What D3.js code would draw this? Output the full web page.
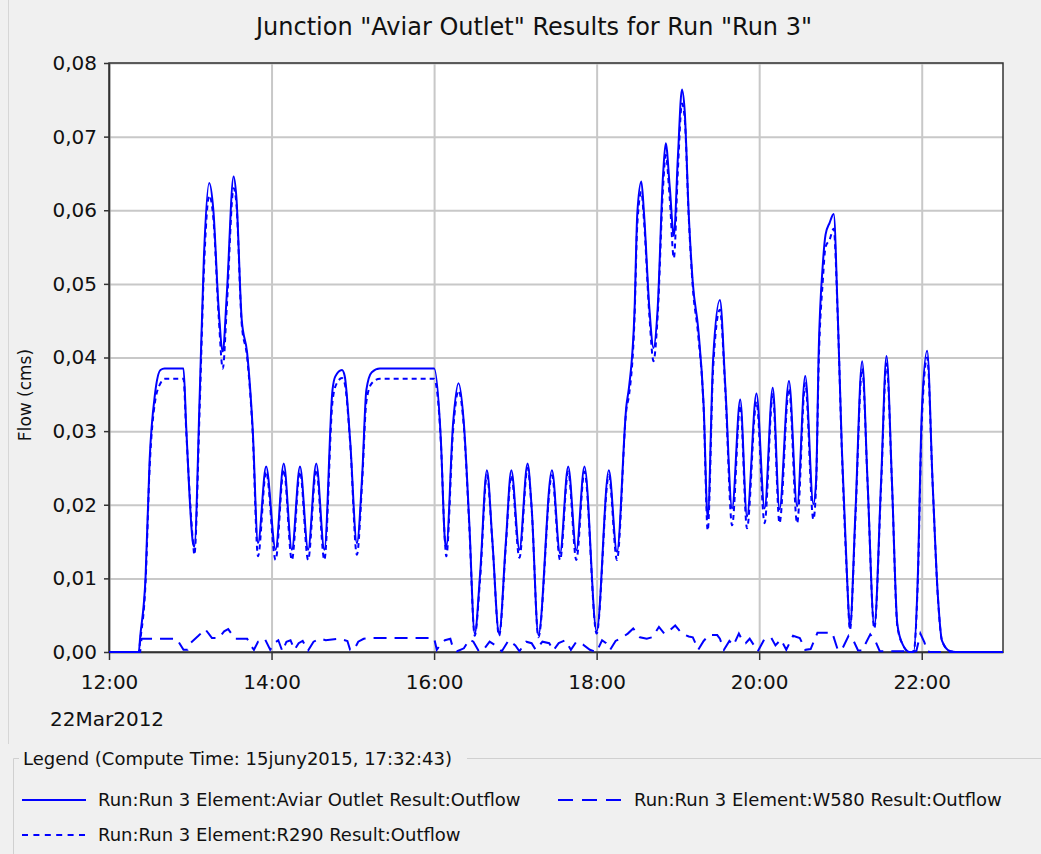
<!DOCTYPE html>
<html>
<head>
<meta charset="utf-8">
<script src="https://cdn.jsdelivr.net/npm/d3@7"></script>
<style>
  html, body { margin: 0; padding: 0; background: #f0f0f0; }
  svg { display: block; font-family: "DejaVu Sans", sans-serif; }
  .grid line { stroke: #c8c8c8; stroke-width: 2; }
  .grid .domain { display: none; }
  .axis line, .axis path { stroke: #333; stroke-width: 1.5; }
  .axis text { fill: #111; font-size: 20px; font-family: "DejaVu Sans", sans-serif; }
</style>
</head>
<body>
<div id="chart"></div>
<script>
// time of day on 22Mar2012, shared by the Aviar Outlet and R290 series
var times = [
  "12:00", "12:22", "12:23", "12:27", "12:30", "12:34", "12:38", "12:41", "12:55", "12:57",
  "13:02", "13:03", "13:07", "13:10", "13:14", "13:17", "13:21", "13:24", "13:27", "13:32",
  "13:34", "13:38", "13:42", "13:46", "13:50", "13:56", "14:03", "14:09", "14:15", "14:21",
  "14:27", "14:33", "14:39", "14:45", "14:47", "14:52", "14:54", "14:58", "15:03", "15:07",
  "15:10", "15:14", "15:20", "16:00", "16:05", "16:08", "16:09", "16:14", "16:18", "16:22",
  "16:26", "16:30", "16:34", "16:39", "16:43", "16:48", "16:53", "16:57", "17:03", "17:09",
  "17:12", "17:17", "17:27", "17:33", "17:39", "17:45", "17:51", "18:00", "18:09", "18:15",
  "18:22", "18:24", "18:28", "18:30", "18:33", "18:35", "18:39", "18:42", "18:45", "18:49",
  "18:51", "18:54", "18:57", "19:00", "19:03", "19:05", "19:08", "19:11", "19:15", "19:19",
  "19:22", "19:26", "19:31", "19:35", "19:40", "19:46", "19:51", "19:58", "20:04", "20:10",
  "20:15", "20:22", "20:28", "20:34", "20:40", "20:42", "20:44", "20:47", "20:49", "20:52",
  "20:55", "20:58", "21:01", "21:05", "21:07", "21:11", "21:16", "21:20", "21:25", "21:30",
  "21:34", "21:38", "21:42", "21:46", "21:51", "21:54", "21:57", "22:00", "22:04", "22:08",
  "22:12", "22:15", "22:21", "22:25", "23:00"
];

var aviarOutlet = [
  0, 0, 0.002, 0.0102, 0.0261, 0.0351, 0.0383, 0.0385, 0.0385, 0.0306,
  0.0148, 0.0143, 0.0351, 0.0533, 0.0637, 0.0601, 0.0465, 0.0408, 0.0487, 0.0646,
  0.0619, 0.0451, 0.0406, 0.0306, 0.0148, 0.0252, 0.0139, 0.0256, 0.0139, 0.0252,
  0.0139, 0.0256, 0.0139, 0.0356, 0.0374, 0.0383, 0.0375, 0.0288, 0.0148, 0.0243,
  0.0356, 0.038, 0.0385, 0.0385, 0.0288, 0.0152, 0.0143, 0.031, 0.0365, 0.031,
  0.0175, 0.0025, 0.0107, 0.0247, 0.0152, 0.0025, 0.015, 0.0247, 0.0139, 0.0256,
  0.0197, 0.0023, 0.0247, 0.0134, 0.0252, 0.0138, 0.0252, 0.0028, 0.0247, 0.0136,
  0.0335, 0.0361, 0.0465, 0.0595, 0.0639, 0.0595, 0.0465, 0.0413, 0.0465, 0.0647,
  0.0691, 0.0631, 0.0565, 0.0673, 0.0764, 0.0735, 0.0595, 0.0501, 0.0439, 0.0335,
  0.0182, 0.0398, 0.0478, 0.0361, 0.0195, 0.0343, 0.0184, 0.0351, 0.0195, 0.0359,
  0.0194, 0.0368, 0.0198, 0.0375, 0.0201, 0.0232, 0.0413, 0.0527, 0.0567, 0.0583,
  0.0595, 0.0459, 0.0278, 0.0096, 0.0033, 0.0187, 0.0395, 0.0232, 0.0035, 0.0232,
  0.0402, 0.0232, 0.0038, 0.001, 0, 0, 0.0096, 0.0323, 0.0409, 0.0232,
  0.0074, 0.0015, 0.0001, 0, 0
];

var r290 = [
  0, 0, 0.0015, 0.0095, 0.025, 0.034, 0.0365, 0.0371, 0.0371, 0.030,
  0.015, 0.0132, 0.0335, 0.0515, 0.062, 0.059, 0.0455, 0.0385, 0.047, 0.063,
  0.061, 0.0445, 0.040, 0.030, 0.013, 0.0245, 0.0125, 0.0248, 0.0125, 0.0245,
  0.0125, 0.0248, 0.0125, 0.034, 0.036, 0.0372, 0.0365, 0.0285, 0.0132, 0.0235,
  0.034, 0.0365, 0.0371, 0.0371, 0.0285, 0.015, 0.013, 0.030, 0.0355, 0.0305,
  0.017, 0.0022, 0.010, 0.024, 0.015, 0.0022, 0.0145, 0.024, 0.0128, 0.025,
  0.0195, 0.002, 0.024, 0.0125, 0.0245, 0.0125, 0.0245, 0.0025, 0.024, 0.0125,
  0.033, 0.035, 0.0455, 0.058, 0.0625, 0.0585, 0.0455, 0.0395, 0.0455, 0.063,
  0.0675, 0.0615, 0.0535, 0.0655, 0.0745, 0.0725, 0.059, 0.0495, 0.043, 0.033,
  0.0165, 0.0385, 0.0465, 0.0355, 0.0172, 0.0335, 0.0168, 0.034, 0.0175, 0.035,
  0.0175, 0.0358, 0.0175, 0.0365, 0.018, 0.0225, 0.0395, 0.0505, 0.055, 0.056,
  0.0575, 0.0455, 0.0275, 0.0095, 0.003, 0.018, 0.0385, 0.023, 0.0032, 0.0225,
  0.0392, 0.023, 0.0035, 0.001, 0, 0, 0.009, 0.031, 0.040, 0.023,
  0.0072, 0.0015, 0.0001, 0, 0
];

var w580Times = [
  "12:00", "12:23", "12:24", "12:50", "12:52", "12:55", "12:58", "13:00", "13:06", "13:11",
  "13:14", "13:16", "13:21", "13:25", "13:28", "13:33", "13:42", "13:45", "13:47", "13:50",
  "13:55", "13:59", "14:02", "14:05", "14:08", "14:11", "14:14", "14:17", "14:20", "14:23",
  "14:27", "14:31", "14:36", "14:40", "14:50", "14:56", "14:58", "15:01", "15:04", "15:08",
  "15:14", "16:00", "16:02", "16:05", "16:08", "16:12", "16:14", "16:17", "16:22", "16:26",
  "16:29", "16:33", "16:36", "16:41", "16:46", "16:50", "16:55", "17:00", "17:03", "17:08",
  "17:12", "17:15", "17:20", "17:25", "17:28", "17:32", "17:37", "17:41", "17:45", "17:50",
  "17:55", "18:00", "18:04", "18:07", "18:10", "18:14", "18:19", "18:23", "18:27", "18:32",
  "18:37", "18:41", "18:46", "18:50", "18:53", "18:58", "19:03", "19:08", "19:11", "19:15",
  "19:19", "19:23", "19:29", "19:31", "19:34", "19:38", "19:41", "19:45", "19:48", "19:50",
  "19:53", "19:59", "20:04", "20:09", "20:12", "20:16", "20:20", "20:25", "20:30", "20:34",
  "20:38", "20:43", "20:54", "20:58", "21:01", "21:06", "21:10", "21:13", "21:16", "21:22",
  "21:26", "21:29", "21:56", "21:59", "22:02", "22:04", "22:06", "23:00"
];

var w580 = [
  0, 0, 0.0018, 0.0018, 0.0012, 0.0003, 0.0003, 0.0012, 0.0022, 0.0031,
  0.0024, 0.0019, 0.0019, 0.0028, 0.0031, 0.0018, 0.0018, 0.0008, 0.0003, 0.0014,
  0.0018, 0.0003, 0.0012, 0.0016, 0.0001, 0.0014, 0.0016, 0.0003, 0.0012, 0.0015,
  0.0002, 0.0014, 0.0018, 0.0016, 0.0018, 0.0015, 0.0003, 0.0003, 0.0014, 0.0018,
  0.0019, 0.0019, 0.0003, 0.0011, 0.0016, 0.0018, 0.0005, 0.0001, 0.0005, 0.0017,
  0.0014, 0.0001, 0.0002, 0.0014, 0.0008, 0.0001, 0.0016, 0.0009, 0.0001, 0.0014,
  0.0012, 0.0003, 0.0014, 0.0012, 0.0002, 0.0012, 0.0016, 0.0003, 0.0014, 0.001,
  0.0003, 0, 0.0016, 0.0012, 0.0003, 0.0015, 0.002, 0.0025, 0.0032, 0.002,
  0.0018, 0.002, 0.0034, 0.0025, 0.0028, 0.0036, 0.0025, 0.0021, 0.002, 0.0003,
  0.0015, 0.0023, 0.0023, 0.0018, 0.0003, 0.0015, 0.0009, 0.0025, 0.0014, 0.0012,
  0.0018, 0.0001, 0.0018, 0.0019, 0.0009, 0.0017, 0.0003, 0.0022, 0.0019, 0.0003,
  0.0004, 0.0026, 0.0026, 0.0003, 0.0003, 0.0022, 0.0014, 0.0002, 0.0002, 0.0024,
  0.0014, 0.0001, 0.0001, 0.0025, 0.0013, 0.0001, 0, 0
];

var xTickLabels = ["12:00", "14:00", "16:00", "18:00", "20:00", "22:00"];
var yTicks = [0, 0.01, 0.02, 0.03, 0.04, 0.05, 0.06, 0.07, 0.08];
var day = "22Mar2012";
var legendNames = [
  "Run:Run 3 Element:Aviar Outlet Result:Outflow",
  "Run:Run 3 Element:W580 Result:Outflow",
  "Run:Run 3 Element:R290 Result:Outflow"
];

var margin = {top: 63, right: 38, bottom: 202, left: 109};
var W = 1041, H = 854;
var width = W - margin.left - margin.right,
  height = H - margin.top - margin.bottom;

var parseTime = d3.timeParse("%d%b%Y %H:%M");
function t(s) { return parseTime(day + " " + s); }

var comma = d3.formatLocale({decimal: ",", thousands: ".", grouping: [3], currency: ["", ""]});

var svg = d3.select("#chart")
  .append("svg")
  .attr("width", W)
  .attr("height", H);

// faint panel edge on the left
svg.append("line")
  .attr("x1", 8.5).attr("x2", 8.5)
  .attr("y1", 0).attr("y2", 744)
  .attr("stroke", "#d6d6d6");

svg.append("text")
  .attr("x", 534)
  .attr("y", 35)
  .attr("text-anchor", "middle")
  .style("font-size", "24px")
  .attr("fill", "#111")
  .text('Junction "Aviar Outlet" Results for Run "Run 3"');

var g = svg.append("g")
  .attr("transform", "translate(" + margin.left + "," + margin.top + ")");

var x = d3.scaleTime()
  .domain([t("12:00"), t("23:00")])
  .range([0, width]);

var y = d3.scaleLinear()
  .domain([0, 0.08])
  .range([height, 0]);

g.append("rect")
  .attr("width", width)
  .attr("height", height)
  .attr("fill", "#fff");

g.append("g")
  .attr("class", "grid")
  .call(d3.axisLeft(y).tickValues(yTicks).tickSize(-width).tickFormat(""));

g.append("g")
  .attr("class", "grid")
  .attr("transform", "translate(0," + height + ")")
  .call(d3.axisBottom(x).tickValues(xTickLabels.map(t)).tickSize(-height).tickFormat(""));

g.append("g")
  .attr("class", "y axis")
  .call(d3.axisLeft(y)
    .tickValues(yTicks)
    .tickSizeInner(5)
    .tickSizeOuter(0)
    .tickPadding(7)
    .tickFormat(comma.format(".2f")));

g.append("g")
  .attr("class", "x axis")
  .attr("transform", "translate(0," + height + ")")
  .call(d3.axisBottom(x)
    .tickValues(xTickLabels.map(t))
    .tickSizeInner(8)
    .tickSizeOuter(0)
    .tickPadding(15)
    .tickFormat(d3.timeFormat("%H:%M")));

g.append("rect")
  .attr("width", width)
  .attr("height", height)
  .attr("fill", "none")
  .attr("stroke", "#333")
  .attr("stroke-width", 1.5);

svg.append("text")
  .attr("x", 50)
  .attr("y", 726)
  .style("font-size", "20px")
  .attr("fill", "#111")
  .text(day);

svg.append("text")
  .attr("transform", "translate(31,395) rotate(-90)")
  .attr("text-anchor", "middle")
  .style("font-size", "17px")
  .attr("fill", "#111")
  .text("Flow (cms)");

var smooth = d3.line()
  .x(function (d) { return x(d[0]); })
  .y(function (d) { return y(d[1]); })
  .curve(d3.curveMonotoneX);

var straight = d3.line()
  .x(function (d) { return x(d[0]); })
  .y(function (d) { return y(d[1]); });

var series = [
  {pts: w580Times.map(function (s, i) { return [t(s), w580[i]]; }), line: straight, dash: "13,8"},
  {pts: times.map(function (s, i) { return [t(s), r290[i]]; }), line: smooth, dash: "5,4"},
  {pts: times.map(function (s, i) { return [t(s), aviarOutlet[i]]; }), line: smooth, dash: null}
];

g.selectAll("path.series")
  .data(series)
  .enter()
  .append("path")
  .attr("class", "series")
  .attr("fill", "none")
  .attr("stroke", "#0000ff")
  .attr("stroke-width", 2)
  .attr("stroke-dasharray", function (d) { return d.dash; })
  .attr("d", function (d) { return d.line(d.pts); });

// legend box
var legend = svg.append("g").attr("class", "legend");

legend.append("path")
  .attr("d", "M19,758.5 H13.5 V854 M467,758.5 H1041")
  .attr("fill", "none")
  .attr("stroke", "#d0d0d0");

legend.append("text")
  .attr("x", 23)
  .attr("y", 765)
  .style("font-size", "18px")
  .attr("fill", "#111")
  .text("Legend (Compute Time: 15juny2015, 17:32:43)");

var items = [
  {name: legendNames[0], dash: null, x: 22, y: 800},
  {name: legendNames[1], dash: "15,9", x: 558, y: 800},
  {name: legendNames[2], dash: "6,5.4", x: 22, y: 835}
];

var item = legend.selectAll("g.item")
  .data(items)
  .enter().append("g")
  .attr("class", "item")
  .attr("transform", function (d) { return "translate(" + d.x + "," + d.y + ")"; });

item.append("line")
  .attr("x1", 0)
  .attr("x2", 64)
  .attr("stroke", "#0000ff")
  .attr("stroke-width", 2)
  .attr("stroke-dasharray", function (d) { return d.dash; });

item.append("text")
  .attr("x", 76)
  .attr("y", 6)
  .style("font-size", "18px")
  .attr("fill", "#111")
  .text(function (d) { return d.name; });
</script>
</body>
</html>
